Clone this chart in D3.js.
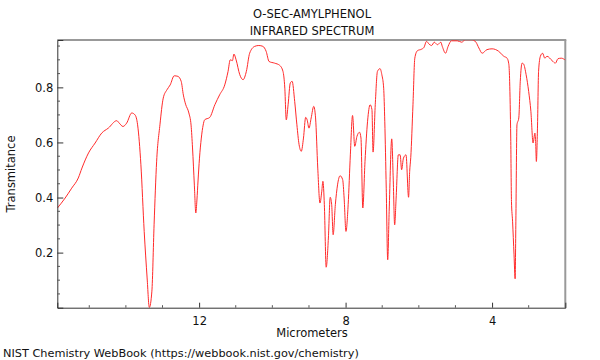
<!DOCTYPE html>
<html><head><meta charset="utf-8">
<script src="https://cdn.jsdelivr.net/npm/d3@7/dist/d3.min.js"></script>
<style>body{margin:0;background:#fff}svg{display:block}text{font-family:"DejaVu Sans",sans-serif}</style>
</head><body>
<script>
const titleLines = ["O-SEC-AMYLPHENOL", "INFRARED SPECTRUM"];
const xLabel = "Micrometers";
const yLabel = "Transmitance";
const credit = "NIST Chemistry WebBook (https://webbook.nist.gov/chemistry)";
const xDomain = [15.873, 2.0];
const yDomain = [0, 0.972];
const xMajorTicks = [12, 8, 4];
const yMajorTicks = [0.2, 0.4, 0.6, 0.8];

const micrometers = [15.87,15.66,15.48,15.30,15.20,15.02,14.84,14.66,14.48,14.25,14.18,14.08,13.98,13.84,13.75,13.68,13.59,13.50,13.42,13.36,13.29,13.23,13.16,13.07,12.98,12.88,12.79,12.68,12.58,12.49,12.43,12.37,12.28,12.22,12.18,12.13,12.09,12.06,12.03,11.99,11.94,11.89,11.85,11.71,11.57,11.44,11.30,11.21,11.15,11.09,11.05,10.99,10.89,10.80,10.71,10.62,10.48,10.37,10.26,10.17,10.09,9.94,9.80,9.71,9.66,9.62,9.57,9.51,9.46,9.39,9.33,9.27,9.21,9.15,9.09,9.05,9.00,8.94,8.87,8.82,8.76,8.70,8.65,8.62,8.58,8.53,8.47,8.42,8.38,8.34,8.28,8.22,8.15,8.08,8.04,7.99,7.93,7.87,7.81,7.75,7.69,7.62,7.58,7.53,7.47,7.40,7.33,7.28,7.25,7.19,7.13,7.06,7.01,6.96,6.93,6.89,6.85,6.81,6.74,6.70,6.66,6.62,6.56,6.51,6.47,6.42,6.35,6.28,6.25,6.22,6.16,6.11,6.04,5.92,5.86,5.79,5.72,5.65,5.58,5.49,5.40,5.36,5.27,5.20,5.11,4.95,4.83,4.73,4.55,4.44,4.36,4.27,4.14,4.00,3.82,3.68,3.59,3.54,3.52,3.49,3.47,3.44,3.40,3.37,3.35,3.32,3.27,3.23,3.18,3.14,3.07,3.00,2.94,2.88,2.83,2.81,2.79,2.76,2.73,2.68,2.62,2.56,2.50,2.36,2.27,2.20,2.11,2.00];
const transmittance = [0.362,0.398,0.434,0.471,0.507,0.562,0.598,0.634,0.652,0.679,0.670,0.658,0.670,0.707,0.700,0.664,0.519,0.277,0.108,0.001,0.060,0.301,0.532,0.664,0.761,0.791,0.809,0.842,0.840,0.822,0.772,0.739,0.707,0.663,0.580,0.445,0.344,0.391,0.460,0.543,0.616,0.663,0.682,0.691,0.737,0.773,0.809,0.858,0.900,0.897,0.921,0.900,0.846,0.828,0.858,0.924,0.949,0.952,0.949,0.931,0.894,0.888,0.880,0.858,0.797,0.682,0.737,0.816,0.822,0.749,0.664,0.592,0.568,0.616,0.691,0.682,0.652,0.689,0.731,0.689,0.507,0.380,0.423,0.459,0.374,0.147,0.253,0.401,0.374,0.265,0.374,0.446,0.479,0.465,0.398,0.277,0.374,0.555,0.698,0.586,0.622,0.637,0.616,0.362,0.531,0.677,0.737,0.719,0.565,0.737,0.858,0.868,0.846,0.797,0.677,0.434,0.174,0.350,0.613,0.471,0.301,0.398,0.555,0.555,0.501,0.543,0.555,0.401,0.495,0.546,0.737,0.906,0.933,0.939,0.945,0.967,0.957,0.952,0.964,0.955,0.964,0.949,0.924,0.949,0.969,0.969,0.964,0.973,0.973,0.964,0.943,0.924,0.937,0.940,0.931,0.913,0.906,0.882,0.822,0.616,0.386,0.314,0.192,0.105,0.314,0.664,0.689,0.822,0.888,0.885,0.846,0.785,0.713,0.598,0.634,0.604,0.531,0.652,0.858,0.913,0.924,0.906,0.913,0.897,0.888,0.904,0.906,0.899];

const W = 600, H = 360;
const m = {left: 57.3, right: 565.3, top: 40, bottom: 307.7};
const svg = d3.select("body").append("svg").attr("width", W).attr("height", H);

const x = d3.scaleLinear().domain(xDomain).range([m.left, m.right]);
const y = d3.scaleLinear().domain(yDomain).range([m.bottom, m.top]);

// frame (top/right gray)
svg.append("line").attr("x1", m.left).attr("x2", m.right + 1).attr("y1", m.top).attr("y2", m.top)
  .attr("stroke", "#999").attr("stroke-width", 2);
svg.append("line").attr("x1", m.right).attr("x2", m.right).attr("y1", m.top).attr("y2", m.bottom)
  .attr("stroke", "#999").attr("stroke-width", 2);

// data line
const data = micrometers.map((u, i) => ({u, t: transmittance[i]}));
svg.append("defs").append("clipPath").attr("id", "clip").append("rect")
  .attr("x", m.left).attr("y", m.top).attr("width", m.right - m.left).attr("height", m.bottom - m.top + 1);
svg.append("path").datum(data)
  .attr("clip-path", "url(#clip)")
  .attr("fill", "none").attr("stroke", "#ff2a2a").attr("stroke-width", 1)
  .attr("d", d3.line().x(d => x(d.u)).y(d => y(d.t)).curve(d3.curveMonotoneX));

// bottom axis
const xMinor = d3.range(15, 2, -1).filter(v => !xMajorTicks.includes(v));
const gx = svg.append("g").attr("transform", `translate(0,${m.bottom})`);
gx.call(d3.axisBottom(x).tickValues(xMajorTicks).tickSize(-5).tickPadding(9).tickFormat(d3.format("d")))
  .call(g => g.select(".domain").attr("stroke", "#333"))
  .call(g => g.selectAll(".tick line").attr("stroke", "#333"))
  .call(g => g.selectAll("text").attr("font-size", 11.5).attr("fill", "#111").attr("font-family", "DejaVu Sans"));
gx.selectAll(".minor").data(xMinor).enter().append("line")
  .attr("x1", d => x(d)).attr("x2", d => x(d)).attr("y1", 0).attr("y2", -2.5).attr("stroke", "#555");

// left axis
const yMinor = d3.range(0.05, 0.97, 0.05).map(v => +v.toFixed(2)).filter(v => !yMajorTicks.some(t => Math.abs(t - v) < 1e-6));
const gy = svg.append("g").attr("transform", `translate(${m.left},0)`);
gy.call(d3.axisLeft(y).tickValues(yMajorTicks).tickSize(-6).tickPadding(4).tickFormat(d3.format(".1f")))
  .call(g => g.select(".domain").attr("stroke", "#333"))
  .call(g => g.selectAll(".tick line").attr("stroke", "#333"))
  .call(g => g.selectAll("text").attr("font-size", 11.5).attr("fill", "#111").attr("font-family", "DejaVu Sans"));
gy.selectAll(".minor").data(yMinor).enter().append("line")
  .attr("y1", d => y(d)).attr("y2", d => y(d)).attr("x1", 0).attr("x2", 2.7).attr("stroke", "#555");

// texts
svg.append("text").attr("x", 312).attr("y", 18).attr("text-anchor", "middle").attr("font-size", 11.5).attr("fill", "#111").text(titleLines[0]);
svg.append("text").attr("x", 312).attr("y", 35).attr("text-anchor", "middle").attr("font-size", 11.5).attr("fill", "#111").text(titleLines[1]);
svg.append("text").attr("x", 312).attr("y", 337).attr("text-anchor", "middle").attr("font-size", 11.5).attr("fill", "#111").text(xLabel);
svg.append("text").attr("transform", "translate(15,174) rotate(-90)").attr("text-anchor", "middle").attr("font-size", 11.5).attr("fill", "#111").text(yLabel);
svg.append("text").attr("x", 3).attr("y", 357).attr("font-size", 11.3).attr("fill", "#111").text(credit);
</script>
</body></html>
